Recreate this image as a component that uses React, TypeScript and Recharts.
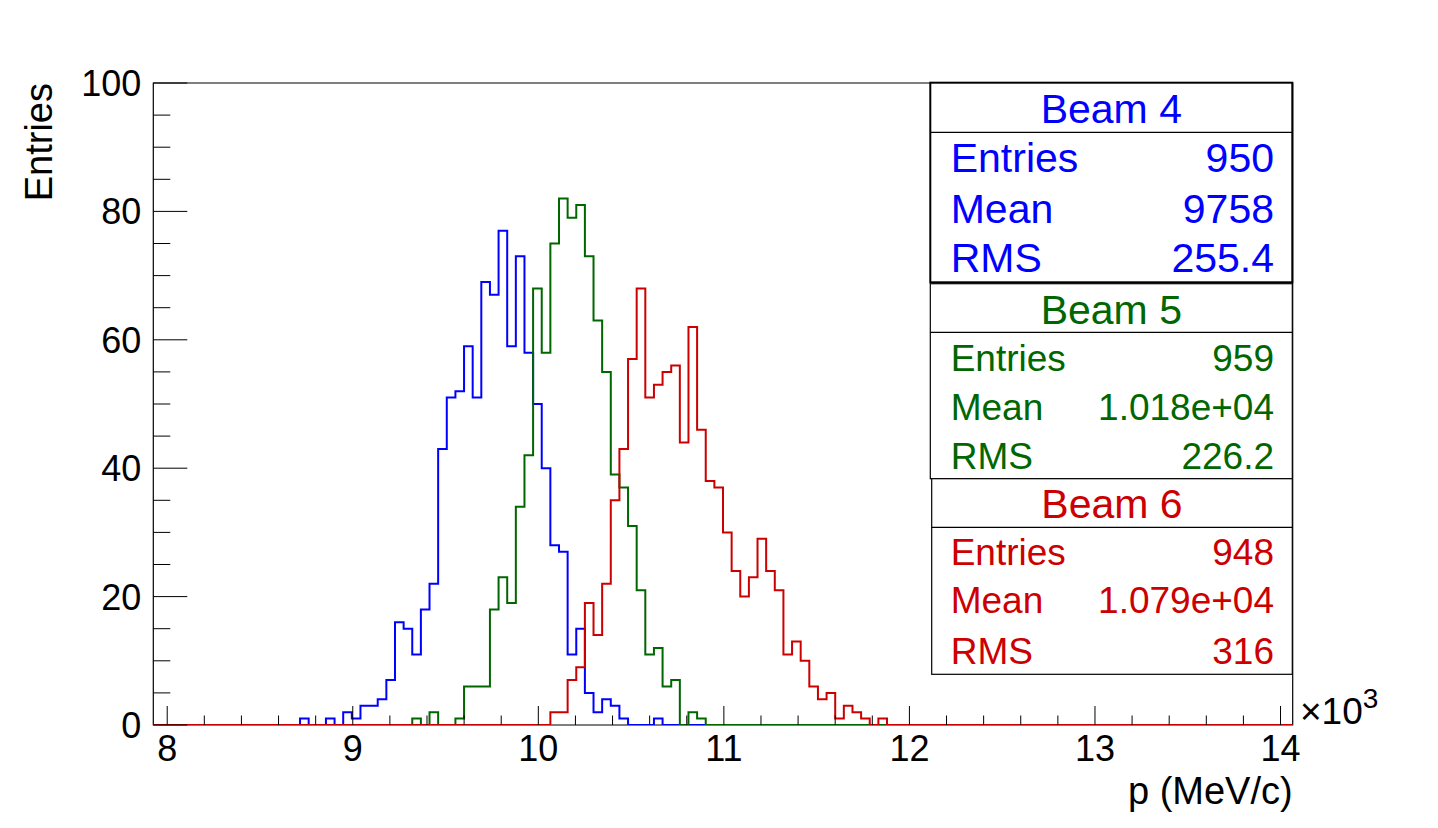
import React from 'react'
import { ComposedChart, Line, XAxis, YAxis, ReferenceArea } from 'recharts'

// histogram binning (p in units of 10^3 MeV/c)
const X_MIN = 7.925
const BIN_WIDTH = 0.04652
const N_BINS = 132
const X_MAX = X_MIN + N_BINS * BIN_WIDTH

// bin contents, each list starts at the given bin index
const beam4Start = 17
const beam4Counts = [
   1, 0, 0, 1, 0, 2, 1, 3, 3, 4, 7, 16, 15, 11, 18, 22, 43, 51, 52, 59, 51, 69, 67, 77, 59, 73, 58, 50, 40, 28, 27, 11,
   15, 5, 2, 4, 3, 1, 0, 0, 0, 1,
]
const beam5Start = 30
const beam5Counts = [
   1, 0, 2, 0, 0, 1, 6, 6, 6, 18, 23, 19, 34, 42, 68, 58, 75, 82, 79, 81, 73, 63, 55, 39, 37, 31, 21, 11, 12, 6, 7, 0, 2,
   1,
]
const beam6Start = 46
const beam6Counts = [
   2, 2, 7, 9, 19, 14, 22, 35, 43, 57, 68, 51, 53, 55, 56, 44, 62, 46, 38, 37, 30, 24, 20, 23, 29, 24, 21, 11, 13, 10, 6,
   4, 5, 1, 3, 2, 1, 0, 1,
]

const xMajorTicks = [8, 9, 10, 11, 12, 13, 14]
const yMajorTicks = [0, 20, 40, 60, 80, 100]

// stats boxes
const beamNames = ['Beam 4', 'Beam 5', 'Beam 6']
const beamEntries = ['950', '959', '948']
const beamMeans = ['9758', '1.018e+04', '1.079e+04']
const beamRms = ['255.4', '226.2', '316']
const beamColors = ['#0000ff', '#006600', '#cc0000']

const W = 1422
const H = 812
const PLOT_LEFT = 145.3
const PLOT_RIGHT = 1284.7
const PLOT_TOP = 75
const PLOT_BOTTOM = 717
const AXIS_SIZE = 60
const FONT = "'Liberation Sans', Arial, Helvetica, sans-serif"

const binValue = (start: number, counts: number[], i: number) =>
   i >= start && i < start + counts.length ? counts[i - start] : 0

const buildData = () => {
   const rows: { x: number; b4: number; b5: number; b6: number }[] = []
   for (let i = 0; i <= N_BINS; i++) {
      const k = Math.min(i, N_BINS - 1)
      rows.push({
         x: X_MIN + i * BIN_WIDTH,
         b4: binValue(beam4Start, beam4Counts, k),
         b5: binValue(beam5Start, beam5Counts, k),
         b6: binValue(beam6Start, beam6Counts, k),
      })
   }
   return rows
}

const xTicks: number[] = []
xMajorTicks.forEach((t, i) => {
   xTicks.push(t)
   if (i < xMajorTicks.length - 1) for (let s = 1; s < 5; s++) xTicks.push(Math.round((t + s * 0.2) * 10) / 10)
})
const yTicks: number[] = []
for (let v = 0; v <= 100; v += 5) yTicks.push(v)

const XTick = (props: any) => {
   const { x, payload } = props
   const v = Number(payload.value)
   const major = xMajorTicks.some(t => Math.abs(t - v) < 1e-6)
   return (
      <g>
         <line x1={x} x2={x} y1={PLOT_BOTTOM} y2={PLOT_BOTTOM - (major ? 19 : 9.5)} stroke='#000' />
         {major && (
            <text x={x} y={PLOT_BOTTOM + 36} textAnchor='middle' fontSize={36} fontFamily={FONT} fill='#000'>
               {Math.round(v)}
            </text>
         )}
      </g>
   )
}

const YTick = (props: any) => {
   const { y, payload } = props
   const v = Number(payload.value)
   const major = yMajorTicks.includes(v)
   return (
      <g>
         <line x1={PLOT_LEFT} x2={PLOT_LEFT + (major ? 34 : 17)} y1={y} y2={y} stroke='#000' />
         {major && (
            <text x={PLOT_LEFT - 12} y={y + 13} textAnchor='end' fontSize={36} fontFamily={FONT} fill='#000'>
               {v}
            </text>
         )}
      </g>
   )
}

// layout of the three stacked stats boxes
const boxLayout = [
   { left: 922.3, top: 74.7, titleBottom: 124.3, bottom: 274.3, title: 114.7, rows: [163.7, 214.7, 264.3], size: 41, shadow: true },
   { left: 922.3, top: 275.7, titleBottom: 324.3, bottom: 470.7, title: 316, rows: [363, 412, 461.3], size: 37, shadow: false },
   { left: 923.7, top: 470.7, titleBottom: 519.3, bottom: 666.3, title: 510.3, rows: [557, 605.3, 656.3], size: 37, shadow: false },
]
const BOX_RIGHT = 1284.3

const StatsBox = ({ idx }: { idx: number }) => {
   const b = boxLayout[idx]
   const c = beamColors[idx]
   const labels = ['Entries', 'Mean', 'RMS']
   const values = [beamEntries[idx], beamMeans[idx], beamRms[idx]]
   return (
      <g fontFamily={FONT}>
         <rect x={b.left} y={b.top} width={BOX_RIGHT - b.left} height={b.bottom - b.top} fill='#fff' stroke='#000' strokeWidth={b.shadow ? 2 : 1.2} />
         <line x1={b.left} x2={BOX_RIGHT} y1={b.titleBottom} y2={b.titleBottom} stroke='#000' strokeWidth={1.2} />
         <text x={(b.left + BOX_RIGHT) / 2} y={b.title} textAnchor='middle' fontSize={41} fill={c}>
            {beamNames[idx]}
         </text>
         {labels.map((l, r) => (
            <g key={l}>
               <text x={942.7} y={b.rows[r]} fontSize={b.size} fill={c}>
                  {l}
               </text>
               <text x={1266} y={b.rows[r]} textAnchor='end' fontSize={b.size} fill={c}>
                  {values[r]}
               </text>
            </g>
         ))}
      </g>
   )
}

const App = () => {
   const data = buildData()
   return (
      <div style={{ position: 'relative', width: W, height: H, background: '#fff' }}>
         <ComposedChart
            width={W}
            height={H}
            data={data}
            margin={{ top: PLOT_TOP, right: W - PLOT_RIGHT, bottom: H - PLOT_BOTTOM - AXIS_SIZE, left: PLOT_LEFT - AXIS_SIZE }}
         >
            <XAxis
               dataKey='x'
               type='number'
               domain={[X_MIN, X_MAX]}
               allowDataOverflow
               ticks={xTicks}
               interval={0}
               height={AXIS_SIZE}
               axisLine={false}
               tickLine={false}
               tick={(p: any) => <XTick {...p} />}
            />
            <YAxis
               type='number'
               domain={[0, 100]}
               allowDataOverflow
               ticks={yTicks}
               interval={0}
               width={AXIS_SIZE}
               axisLine={false}
               tickLine={false}
               tick={(p: any) => <YTick {...p} />}
            />
            <ReferenceArea x1={X_MIN} x2={X_MAX} y1={0} y2={100} fill='none' fillOpacity={0} stroke='#000' strokeWidth={1.2} />
            <Line dataKey='b4' type='stepAfter' stroke={beamColors[0]} strokeWidth={2} dot={false} activeDot={false} isAnimationActive={false} />
            <Line dataKey='b5' type='stepAfter' stroke={beamColors[1]} strokeWidth={2} dot={false} activeDot={false} isAnimationActive={false} />
            <Line dataKey='b6' type='stepAfter' stroke={beamColors[2]} strokeWidth={2} dot={false} activeDot={false} isAnimationActive={false} />
         </ComposedChart>
         <svg width={W} height={H} style={{ position: 'absolute', left: 0, top: 0, pointerEvents: 'none' }}>
            <text
               transform={`translate(44, ${PLOT_TOP}) rotate(-90)`}
               textAnchor='end'
               fontSize={38}
               fontFamily={FONT}
               fill='#000'
            >
               Entries
            </text>
            <text x={PLOT_RIGHT} y={796} textAnchor='end' fontSize={38} fontFamily={FONT} fill='#000'>
               p (MeV/c)
            </text>
            <text x={1292} y={716} fontSize={37} fontFamily={FONT} fill='#000'>
               ×10
               <tspan dy={-16} fontSize={28}>
                  3
               </tspan>
            </text>
            <StatsBox idx={0} />
            <StatsBox idx={1} />
            <StatsBox idx={2} />
         </svg>
      </div>
   )
}

export default App
